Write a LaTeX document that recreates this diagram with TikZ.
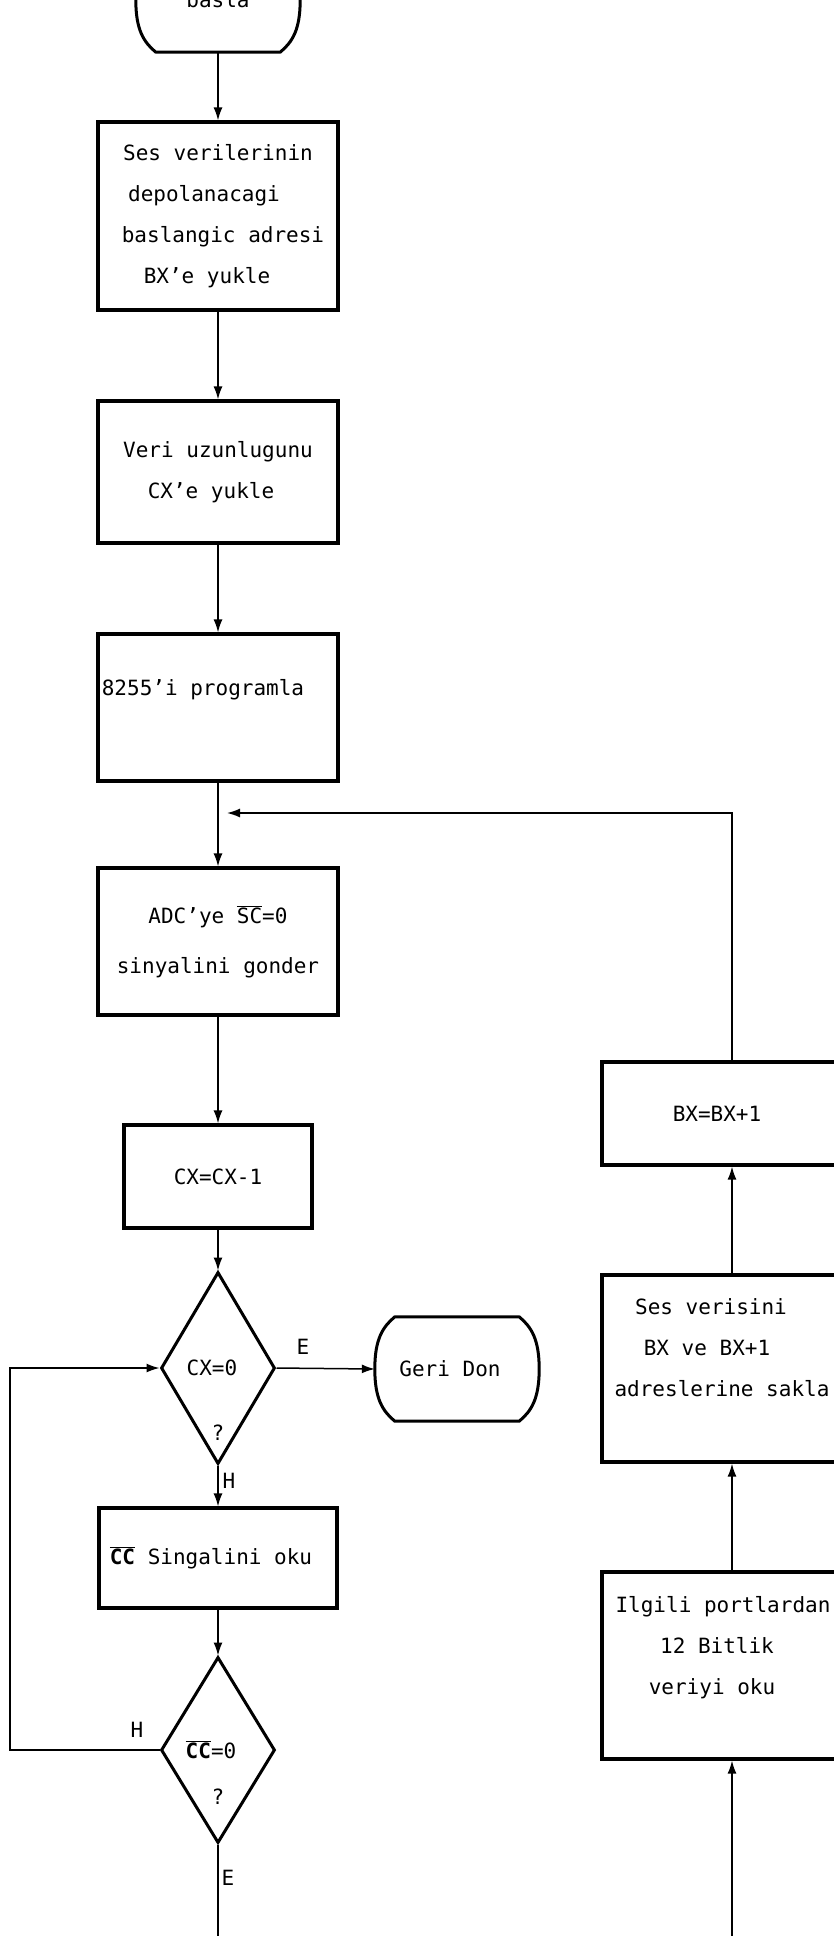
\documentclass[tikz,border=0pt]{standalone}
\usepackage{fontspec}
\setmainfont{DejaVu Sans Mono}
\usetikzlibrary{shapes.geometric,arrows.meta,calc}
\newcommand\mv[2]{\hbox{\kern#1pt\relax#2\kern-#1pt\relax}}
\newcommand\ovl[1]{$\overline{\mbox{#1}}$}
\newcommand\termoutline[1]{%
  \draw[termline] ($(#1.north west)+(20,0)$) -- ($(#1.north east)+(-20,0)$)
    .. controls ($(#1.north east)+(-8,10)$) and ($(#1.east)+(0,-30)$) .. (#1.east)
    .. controls ($(#1.east)+(0,30)$) and ($(#1.south east)+(-8,-10)$) .. ($(#1.south east)+(-20,0)$)
    -- ($(#1.south west)+(20,0)$)
    .. controls ($(#1.south west)+(8,-10)$) and ($(#1.west)+(0,30)$) .. (#1.west)
    .. controls ($(#1.west)+(0,-30)$) and ($(#1.north west)+(8,10)$) .. cycle;}
\begin{document}
\begin{tikzpicture}[x=1pt,y=-1pt,
  every node/.style={font=\fontsize{21}{41}\selectfont},
  procbox/.style={draw,line width=3.2pt,rectangle,inner sep=0pt,align=center},
  decide/.style={draw,diamond,line width=3pt,inner sep=0pt,minimum width=114pt},
  termnode/.style={rectangle,inner sep=0pt,minimum width=164pt,minimum height=104pt},
  termline/.style={line width=3pt,line join=round},
  flow/.style={line width=1.5pt},
  arr/.style={flow,-{Latex[length=13pt,width=9pt]}},
  lbl/.style={inner sep=0pt}
]
\useasboundingbox (0,0) rectangle (834,1936);
\clip (0,0) rectangle (834,1936);

% left column
\node[termnode] (start) at (218,0) {\raisebox{-4pt}{basla}};
\termoutline{start}
\node[procbox,minimum width=240pt,minimum height=188pt] (b1) at (218,216)
  {Ses verilerinin\\\mv{-14}{depolanacagi}\\\mv{5}{baslangic adresi}\\\mv{-11}{BX'e yukle}};
\node[procbox,minimum width=240pt,minimum height=142pt] (b2) at (218,472)
  {Veri uzunlugunu\\\mv{-7}{CX'e yukle}};
\node[procbox,minimum width=240pt,minimum height=147pt] (b3) at (218,707.5)
  {\mv{-15}{8255'i programla}\\\mbox{}};
\node[procbox,minimum width=240pt,minimum height=147pt] (b4) at (218,941.5)
  {ADC'ye \ovl{SC}=0\\[9pt]sinyalini gonder};
\node[procbox,minimum width=188pt,minimum height=103pt] (b5) at (218,1176.5) {CX=CX-1};
\node[decide,minimum height=192pt] (d1) at (218,1368) {\mv{-6}{CX=0}};
\node[lbl] (d1q) at (218,1433) {?};
\node[termnode] (gd) at (457,1369) {\mv{-7}{Geri Don}};
\termoutline{gd}
\node[procbox,minimum width=238pt,minimum height=100pt] (b6) at (218,1558)
  {\mv{-7}{\ovl{\textbf{CC}} Singalini oku}};
\node[decide,minimum height=186pt] (d2) at (218,1750) {\mv{-7}{\ovl{\textbf{CC}}=0}};
\node[lbl] (d2q) at (218,1797) {?};

% right column
\node[procbox,minimum width=260pt,minimum height=103pt] (b7) at (732,1113.5)
  {\mv{-15}{BX=BX+1}};
\node[procbox,minimum width=260pt,minimum height=187pt] (b8) at (732,1368.5)
  {\mv{-21}{Ses verisini}\\\mv{-25}{BX ve BX+1}\\\mv{-10}{adreslerine sakla}\\\mbox{}};
\node[procbox,minimum width=260pt,minimum height=187pt] (b9) at (732,1665.5)
  {\mv{-9}{Ilgili portlardan}\\\mv{-15}{12 Bitlik}\\\mv{-20}{veriyi oku}\\\mbox{}};

% labels
\node[lbl] (le1) at (303,1347) {E};
\node[lbl] (lh1) at (229,1481) {H};
\node[lbl] (lh2) at (137,1730) {H};
\node[lbl] (le2) at (228,1878) {E};

% connectors
\draw[arr] (start.south) -- (b1.north);
\draw[arr] (b1.south) -- (b2.north);
\draw[arr] (b2.south) -- (b3.north);
\draw[arr] (b3.south) -- (b4.north);
\draw[arr] (b4.south) -- (b5.north);
\draw[arr] (b5.south) -- (d1.north);
\draw[arr] (d1.east) -- (gd.west);
\draw[arr] (d1.south) -- (b6.north);
\draw[arr] (b6.south) -- (d2.north);
\coordinate (lpc) at (10,1750);
\draw[arr] (d2.west) -- (lpc) |- (d1.west);
\coordinate (lout) at (218,1945);
\draw[flow] (d2.south) -- (lout);
\coordinate (rin) at (732,1945);
\draw[arr] (rin) -- (b9.south);
\draw[arr] (b9.north) -- (b8.south);
\draw[arr] (b8.north) -- (b7.south);
\coordinate (ltip) at (227,813);
\draw[arr] (b7.north) |- (ltip);
\end{tikzpicture}
\end{document}
